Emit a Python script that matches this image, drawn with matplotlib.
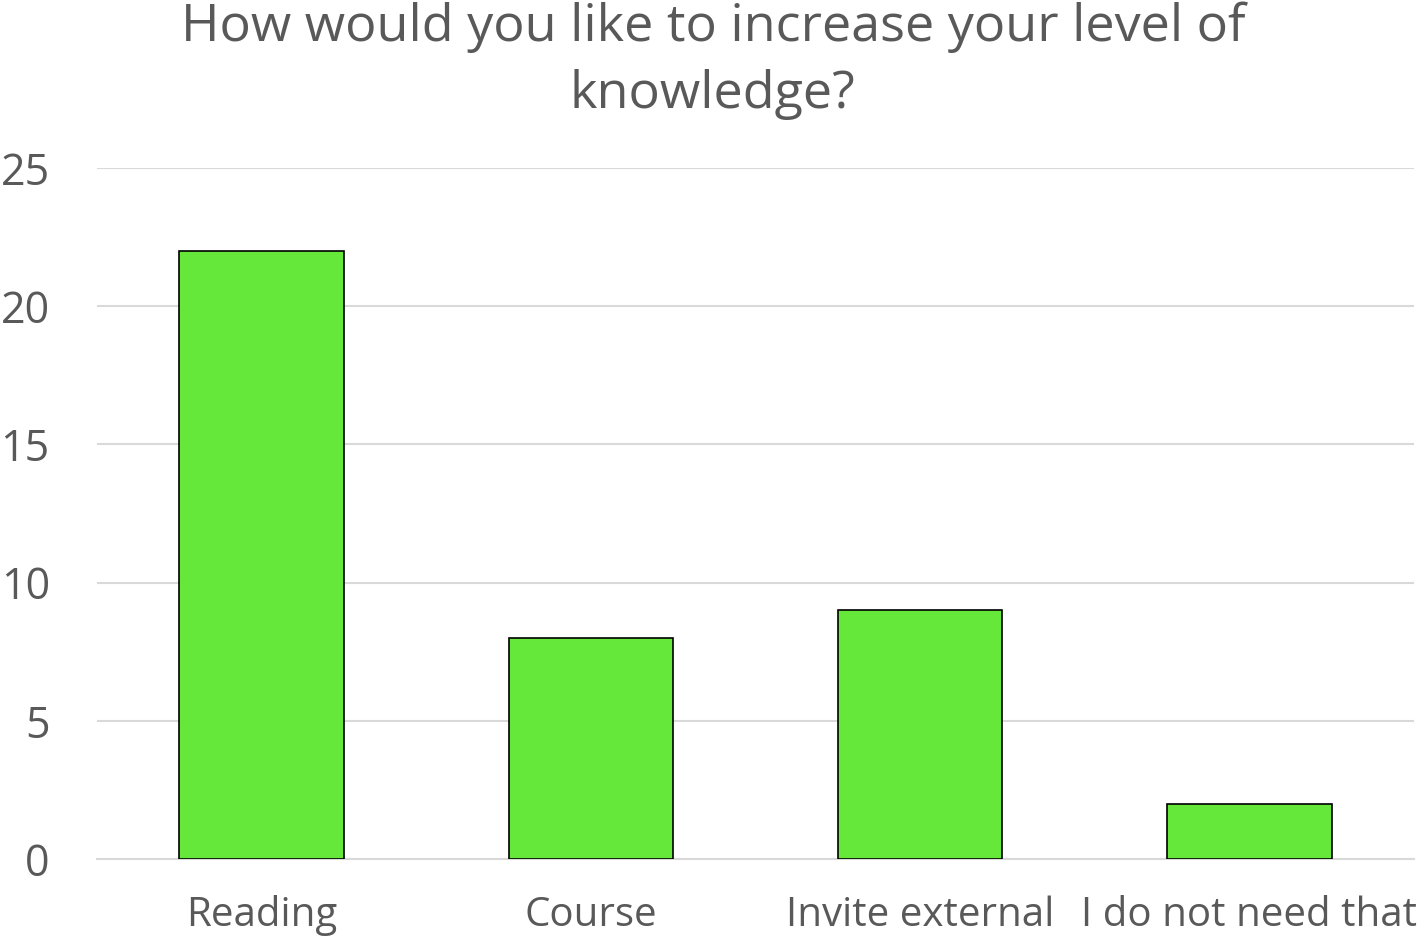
import matplotlib
matplotlib.use("Agg")
from matplotlib import pyplot as plt

# Data
categories = ["Reading", "Course", "Invite external", "I do not need that"]
counts = [22, 8, 9, 2]
yticks = [0, 5, 10, 15, 20, 25]

text_color = "#595959"
bar_color = "#66E83A"
grid_color = "#D9D9D9"

plt.rcParams["font.family"] = ["Open Sans", "DejaVu Sans"]

fig = plt.figure(figsize=(14.17, 9.38), dpi=100)
ax = fig.add_axes([97 / 1417, 1 - 859 / 938, (1414 - 97) / 1417, (859 - 168) / 938])

x = range(len(categories))
ax.bar(x, counts, width=0.5, color=bar_color, edgecolor="black", linewidth=1.2, zorder=3)

ax.set_xlim(-0.5, len(categories) - 0.5)
ax.set_ylim(0, 25)
ax.set_yticks(yticks)
ax.set_xticks(list(x))
ax.set_xticklabels(categories)
ax.yaxis.grid(True, color=grid_color, linewidth=1.5, zorder=0)
ax.set_axisbelow(True)

for side in ["top", "right", "left"]:
    ax.spines[side].set_visible(False)
ax.spines["bottom"].set_color(grid_color)
ax.spines["bottom"].set_linewidth(1.5)

ax.tick_params(axis="both", length=0, colors=text_color)
ax.tick_params(axis="x", labelsize=29, pad=26)
ax.tick_params(axis="y", labelsize=31, pad=34)

fig.text(0.503, 1 - 61 / 938, "How would you like to increase your level of\nknowledge?",
         ha="center", va="center", fontsize=37.5, color=text_color, linespacing=1.4)

fig.savefig("out.png", dpi=100)
